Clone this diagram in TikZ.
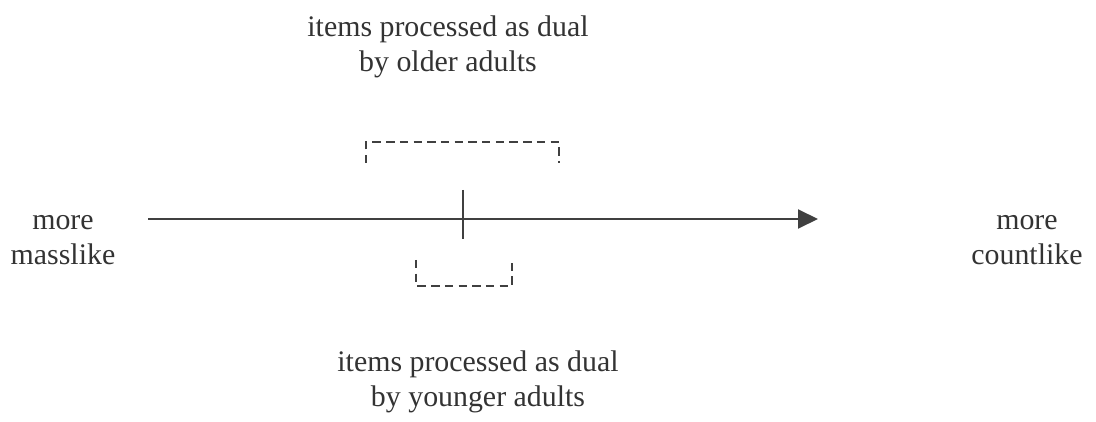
\documentclass[tikz,border=0pt]{standalone}
\usepackage{fontspec}
\setmainfont{Liberation Serif}
\usetikzlibrary{arrows.meta,positioning}

\begin{document}
\begin{tikzpicture}[x=0.02cm,y=-0.02cm,line width=1.1pt,color={rgb:black,3;white,1}]
  \tikzstyle{every node}=[align=center,font=\fontsize{17}{19.8}\selectfont,text={rgb:black,4;white,1}]
  \tikzstyle{dual span}=[dash pattern=on 4.8pt off 3pt]
  \useasboundingbox (0,0) rectangle (1096,422);
  % the scale itself
  \coordinate (lo) at (148,219);
  \coordinate (hi) at (818,219);
  \coordinate (tick_top) at (463,190);
  \coordinate (tick_bot) at (463,239);
  \draw[-{Triangle[length=0.4cm,width=0.38cm]}] (lo) -- (hi);
  \draw (tick_top) -- (tick_bot);
  % end labels
  \node (mass) at (63,240) {more\\masslike};
  \node (count) at (1027,240) {more\\countlike};
  % dual ranges
  \coordinate (old_l) at (366,163);
  \coordinate (old_r) at (559,163);
  \draw[dual span] (old_l) -- ++(0,-21) -| (old_r);
  \coordinate (young_l) at (416,260);
  \coordinate (young_r) at (512,260);
  \draw[dual span] (young_l) -- ++(0,26) -| (young_r);
  \node (older) at (448,47) {items processed as dual\\by older adults};
  \node (younger) at (478,382) {items processed as dual\\by younger adults};
\end{tikzpicture}
\end{document}
